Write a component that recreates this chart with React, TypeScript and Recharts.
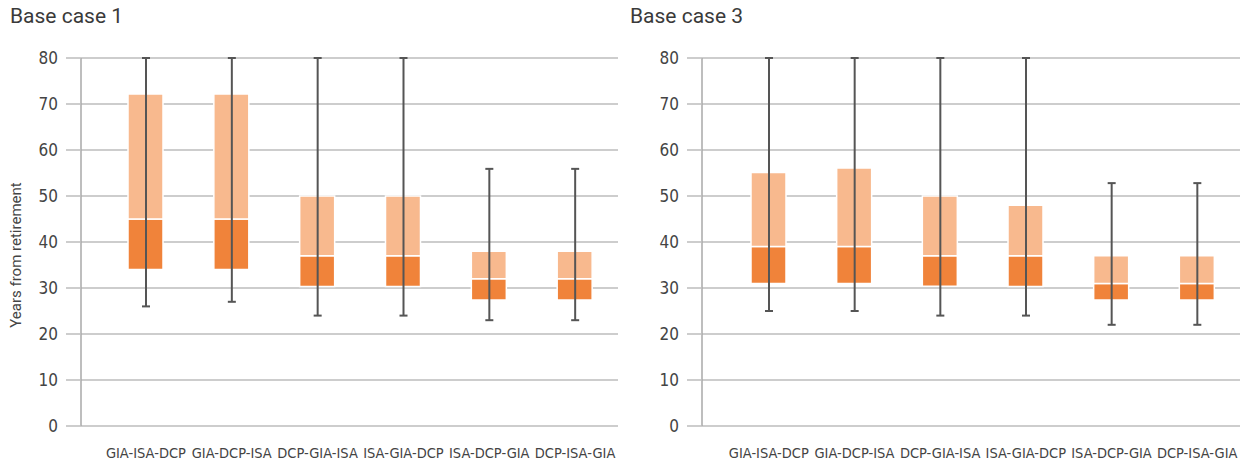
import React from 'react';
import { ComposedChart, Bar, XAxis, YAxis, CartesianGrid } from 'recharts';

const categories = ['GIA-ISA-DCP', 'GIA-DCP-ISA', 'DCP-GIA-ISA', 'ISA-GIA-DCP', 'ISA-DCP-GIA', 'DCP-ISA-GIA'];
const yTicks = [0, 10, 20, 30, 40, 50, 60, 70, 80];

// Base case 1
const case1Min = [26, 27, 24, 24, 23, 23];
const case1Q1 = [34, 34, 30.3, 30.3, 27.4, 27.4];
const case1Median = [45, 45, 37, 37, 32, 32];
const case1Q3 = [72.2, 72.2, 50, 50, 38, 38];
const case1Max = [80, 80, 80, 80, 55.9, 55.9];

// Base case 3
const case3Min = [25, 25, 24, 24, 22, 22];
const case3Q1 = [31, 31, 30.4, 30.3, 27.4, 27.4];
const case3Median = [39, 39, 37, 37, 31, 31];
const case3Q3 = [55.1, 56.1, 50, 48, 37, 37];
const case3Max = [80, 80, 80, 80, 52.8, 52.8];

const DARK = '#f0833a';
const LIGHT = '#f8b98e';
const WHISKER = '#555555';
const GRID = '#bcbcbc';
const TEXT = '#444444';
const NARROW = "'Liberation Sans Narrow', 'DejaVu Sans Condensed', sans-serif";

const buildRows = (min: number[], q1: number[], med: number[], q3: number[], max: number[]) =>
  categories.map((name, i) => ({
    name,
    base: q1[i],
    lower: med[i] - q1[i],
    upper: q3[i] - med[i],
    range: [min[i], max[i]],
  }));

const case1Data = buildRows(case1Min, case1Q1, case1Median, case1Q3, case1Max);
const case3Data = buildRows(case3Min, case3Q1, case3Median, case3Q3, case3Max);

const Whisker = (props: any) => {
  const { x, y, width, height } = props;
  if (x == null || y == null) return null;
  const cx = x + width / 2;
  return (
    <g stroke={WHISKER} strokeWidth={2}>
      <line x1={cx} x2={cx} y1={y} y2={y + height} />
      <line x1={cx - 4} x2={cx + 4} y1={y} y2={y} />
      <line x1={cx - 4} x2={cx + 4} y1={y + height} y2={y + height} />
    </g>
  );
};

interface PanelProps {
  title: string;
  data: any[];
  width: number;
  marginLeft: number;
  marginRight: number;
  padLeft: number;
}

const Panel: React.FC<PanelProps> = ({ title, data, width, marginLeft, marginRight, padLeft }) => (
  <div style={{ position: 'relative', width, height: 465 }}>
    <div
      style={{
        position: 'absolute',
        left: 10,
        top: 4,
        fontFamily: 'Roboto, sans-serif',
        fontSize: 21,
        color: '#3a3a3a',
      }}
    >
      {title}
    </div>
    <ComposedChart
      width={width}
      height={465}
      data={data}
      margin={{ top: 58, right: marginRight, bottom: 0, left: marginLeft }}
      barGap={0}
    >
      <CartesianGrid vertical={false} stroke={GRID} strokeWidth={1.5} />
      <XAxis
        dataKey="name"
        axisLine={false}
        tickLine={false}
        tickSize={0}
        tickMargin={22}
        height={39}
        padding={{ left: padLeft, right: 0 }}
        interval={0}
        tick={{ fill: TEXT, fontSize: 14.5, fontFamily: NARROW }}
      />
      <XAxis xAxisId="w" dataKey="name" hide padding={{ left: padLeft, right: 0 }} />
      <YAxis
        width={60}
        domain={[0, 80]}
        ticks={yTicks}
        axisLine={{ stroke: '#a8a8a8', strokeWidth: 1.5 }}
        tickLine={{ stroke: GRID, strokeWidth: 1.5 }}
        tickSize={15}
        tickMargin={8}
        tick={{ fill: TEXT, fontSize: 17, fontFamily: NARROW }}
      />
      <Bar dataKey="base" stackId="box" fill="none" barSize={35} isAnimationActive={false} />
      <Bar dataKey="lower" stackId="box" fill={DARK} stroke="#ffffff" strokeWidth={1.5} barSize={35} isAnimationActive={false} />
      <Bar dataKey="upper" stackId="box" fill={LIGHT} stroke="#ffffff" strokeWidth={1.5} barSize={35} isAnimationActive={false} />
      <Bar dataKey="range" xAxisId="w" barSize={10} shape={<Whisker />} isAnimationActive={false} />
    </ComposedChart>
  </div>
);

export default function App() {
  return (
    <div style={{ position: 'absolute', left: 0, top: 0, width: 1241, height: 465, background: '#fff' }}>
      <div style={{ position: 'absolute', left: 0, top: 0 }}>
        <Panel title="Base case 1" data={case1Data} width={620} marginLeft={21} marginRight={2} padLeft={22} />
      </div>
      <div style={{ position: 'absolute', left: 620, top: 0 }}>
        <Panel title="Base case 3" data={case3Data} width={621} marginLeft={22} marginRight={1} padLeft={24} />
      </div>
      <div
        style={{
          position: 'absolute',
          left: 16,
          top: 255,
          transform: 'translate(-50%, -50%) rotate(-90deg)',
          whiteSpace: 'nowrap',
          fontFamily: 'Roboto, sans-serif',
          fontSize: 15,
          color: TEXT,
        }}
      >
        Years from retirement
      </div>
    </div>
  );
}
